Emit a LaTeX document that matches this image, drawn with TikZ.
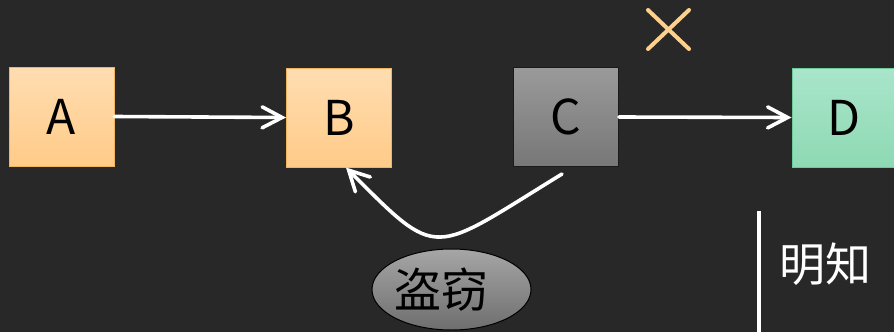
\documentclass[tikz,border=0pt]{standalone}
\usepackage{fontspec}
\setmainfont{Noto Sans CJK SC}
\usetikzlibrary{arrows.meta,shapes.geometric}
\definecolor{bg}{HTML}{282828}
\definecolor{atop}{HTML}{FFDDB1}
\definecolor{abot}{HTML}{FFCB88}
\definecolor{aedge}{HTML}{F2B45E}
\definecolor{ctop}{HTML}{9A9A9A}
\definecolor{cbot}{HTML}{777777}
\definecolor{cedge}{HTML}{1A1A1A}
\definecolor{dtop}{HTML}{A9E5CB}
\definecolor{dbot}{HTML}{8ED9B3}
\definecolor{dedge}{HTML}{6BCB99}
\definecolor{etop}{HTML}{A6A6A6}
\definecolor{ebot}{HTML}{6E6E6E}
\definecolor{crosscol}{HTML}{FFD08C}
\tikzset{
  box/.style={rectangle, minimum width=105pt, minimum height=99pt, inner sep=0pt, line width=1pt,
    font=\fontsize{48}{48}\selectfont, text=black},
  orangebox/.style={box, draw=aedge, top color=atop, bottom color=abot},
  graybox/.style={box, draw=cedge, top color=ctop, bottom color=cbot},
  greenbox/.style={box, draw=dedge, top color=dtop, bottom color=dbot},
  conn/.style={draw=white, line width=3.6pt, line cap=round,
    -{Straight Barb[length=20pt, width=21pt, line cap=round, line width=3.6pt]}},
  bubble/.style={ellipse, draw=black, line width=1pt, top color=etop, bottom color=ebot,
    minimum width=159pt, minimum height=81pt, inner sep=0pt},
  bubbletext/.style={font=\fontsize{47}{47}\selectfont, text=black, inner sep=0pt},
  cjklabel/.style={font=\fontsize{46}{46}\selectfont, text=white, inner sep=0pt}
}
\begin{document}
\begin{tikzpicture}[x=1pt,y=-1pt]
\useasboundingbox (0,0) rectangle (894,332);
\fill[bg] (0,0) rectangle (894,332);
\clip (0,0) rectangle (894,332);
\node[orangebox] (A) at (61.5,116.5) {A};
\node[orangebox] (B) at (339,117.5) {B};
\node[graybox] (C) at (566,117) {C};
\node[greenbox] (D) at (844.5,117.5) {D};
\draw[conn] (A.east) -- (B.west);
\draw[conn] (C.east) -- (D.west);
\coordinate (cs) at ([shift={(-4,7)}]C.south);
\coordinate (ce) at ([shift={(7,0)}]B.south);
\draw[conn] (cs) .. controls (430,255) and (440,262) .. (ce);
\node[bubble] (steal) at (451.5,289.5) {};
\node[bubbletext] (stealtext) at (441,290) {盗窃};
\coordinate (x1) at (648,10);
\coordinate (x2) at (689,49);
\coordinate (x3) at (648,49);
\coordinate (x4) at (689,10);
\draw[crosscol, line width=4pt, line cap=round] (x1) -- (x2) (x3) -- (x4);
\coordinate (v1) at (759,211);
\coordinate (v2) at (759,340);
\draw[white, line width=3.4pt] (v1) -- (v2);
\node[cjklabel] (know) at (825,264) {明知};
\end{tikzpicture}
\end{document}
